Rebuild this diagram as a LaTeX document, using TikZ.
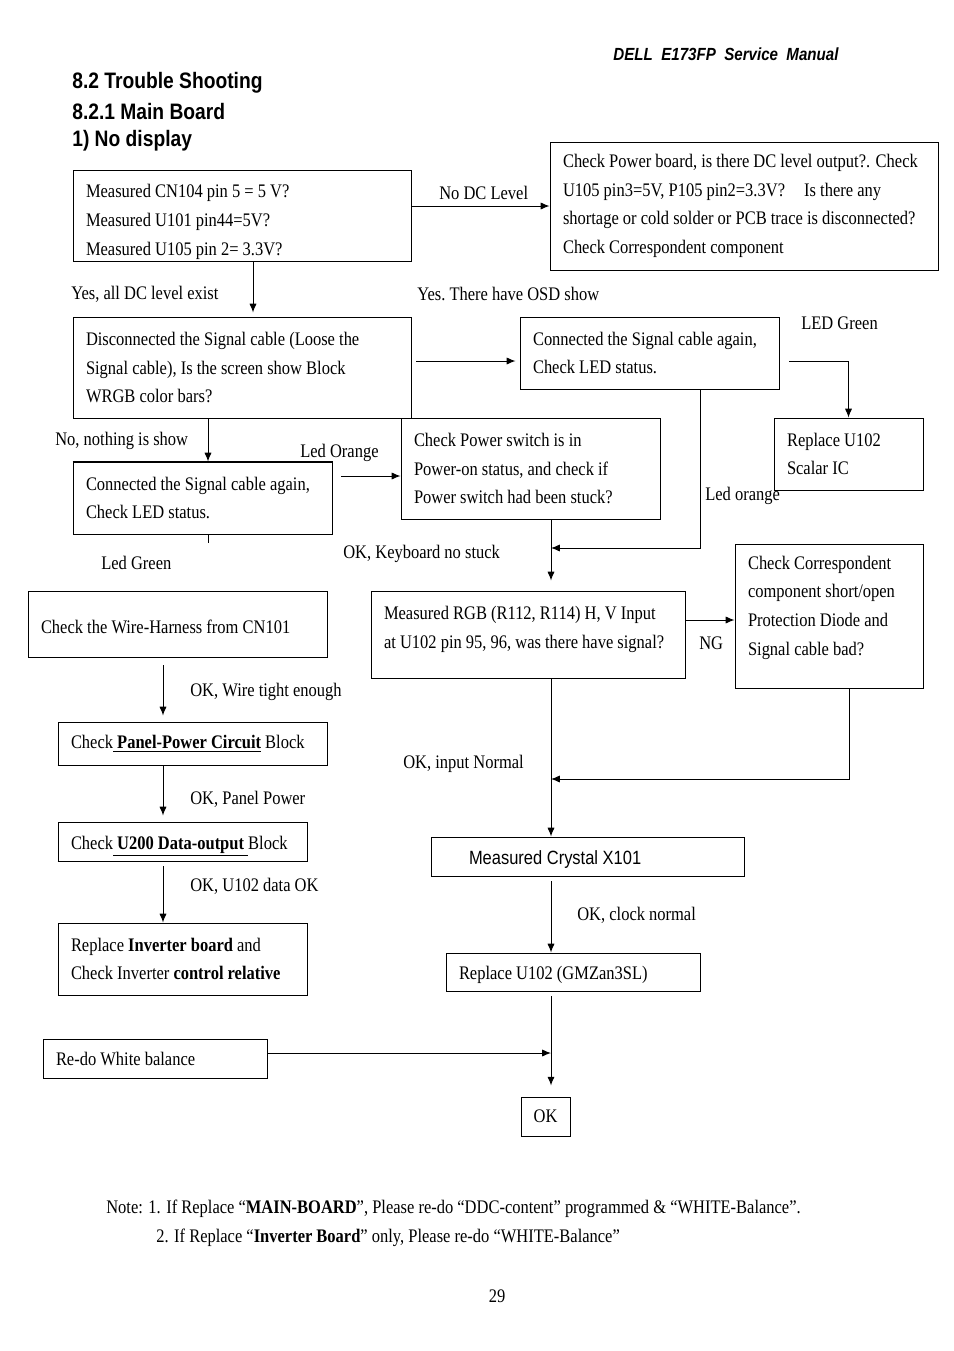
\documentclass[tikz,border=0pt]{standalone}
\usepackage{fontspec}
\setmainfont{Liberation Serif}[FakeStretch=0.86]
\newfontfamily\arialfont{Liberation Sans}[FakeStretch=0.86]
\usetikzlibrary{calc,arrows.meta}
\newcommand{\pxu}{0.022cm}

\begin{document}
\begin{tikzpicture}[x=0.022cm,y=-0.022cm,>={Latex[length=5.5pt,width=4.5pt]}]
\tikzset{every node/.style={font=\fontsize{12}{18}\selectfont},
  box/.style 2 args={draw,rectangle,line width=0.6pt,inner xsep=13*\pxu,inner ysep=0pt,align=flush left,
    minimum width=#1*\pxu,minimum height=#2*\pxu,text width=#1*\pxu-26*\pxu},
  lbl/.style={anchor=west,inner sep=0pt}}
\useasboundingbox (0,0) rectangle (954,1351);

% header
\node (h0) at (726,54) [font=\arialfont\bfseries\itshape\fontsize{11}{13}\selectfont] {DELL\ \ E173FP\ \ Service\ \ Manual};
\node (h1) at (72,83) [lbl,font=\arialfont\bfseries\fontsize{14}{16}\selectfont] {8.2 Trouble Shooting};
\node (h2) at (72,112) [lbl,font=\arialfont\bfseries\fontsize{14}{16}\selectfont] {8.2.1 Main Board};
\node (h3) at (72,141) [lbl,font=\arialfont\bfseries\fontsize{14}{16}\selectfont] {1) No display};

% boxes
\node (1) at (242,215.5) [box={338}{91}] {\rule{0pt}{16.5pt}Measured CN104 pin 5 = 5 V?\\Measured U101 pin44=5V?\\Measured U105 pin 2= 3.3V?};
\node (2) at (744,206) [box={388}{128}] {Check Power board, is there DC level output?. Check\\U105 pin3=5V, P105 pin2=3.3V?\quad Is there any\\shortage or cold solder or PCB trace is disconnected?\\Check Correspondent component};
\node (3) at (242,367.5) [box={338}{101}] {Disconnected the Signal cable (Loose the\\Signal cable), Is the screen show Block\\WRGB color bars?};
\node (4) at (649.5,353) [box={259}{72}] {Connected the Signal cable again,\\Check LED status.};
\node (5) at (848.5,454) [box={149}{72}] {Replace U102\\Scalar IC};
\node (6) at (202.5,498) [box={259}{72}] {Connected the Signal cable again,\\Check LED status.};
\node (7) at (530.5,468.5) [box={259}{101}] {Check Power switch is in\\Power-on status, and check if\\Power switch had been stuck?};
\node (8) at (177.5,624) [box={299}{66}] {\rule{0pt}{12pt}Check the Wire-Harness from CN101};
\node (9) at (192.5,743.5) [box={269}{43}] {Check\underline{\textbf{ Panel-Power Circuit}} Block};
\node (10) at (182.5,841.5) [box={249}{39}] {\rule{0pt}{14pt}Check\underline{\textbf{ U200 Data-output }}Block};
\node (11) at (182.5,959) [box={249}{72}] {Replace \textbf{Inverter board} and\\Check Inverter \textbf{control relative}};
\node (12) at (155,1058.5) [box={224}{39}] {Re-do White balance};
\node (13) at (528,634.5) [box={314}{87}] {Measured RGB (R112, R114) H, V Input\\at U102 pin 95, 96, was there have signal?\rule[-9pt]{0pt}{1pt}};
\node (14) at (829,616) [box={188}{144}] {Check Correspondent\\component short/open\\Protection Diode and\\Signal cable bad?\rule[-13pt]{0pt}{1pt}};
\node (15) at (587.5,856.5) [box={313}{39},inner xsep=38*\pxu,text width=237*\pxu,font=\arialfont\fontsize{12}{18}\selectfont] {\rule{0pt}{12pt}Measured Crystal X101};
\node (16) at (573,972) [box={254}{38}] {\rule{0pt}{12pt}Replace U102 (GMZan3SL)};
\node (17) at (545.5,1116.5) [draw,line width=0.6pt,minimum width=49*\pxu,minimum height=39*\pxu] {OK};

% heavier edges
\draw[line width=1.2pt] (6.north west) -- (6.north east) -- (6.south east) -- (6.south west);
\draw[line width=1.2pt] (9.south west) -- (9.south east);
\draw[line width=1.2pt] (10.south west) -- (10.south east);

% labels
\node (t1) at (439,193) [lbl] {No DC Level};
\node (t2) at (71,294) [lbl] {Yes, all DC level exist};
\node (t3) at (417,294) [lbl] {Yes.\ There have OSD show};
\node (t4) at (801,323) [lbl] {LED Green};
\node (t5) at (55,441) [lbl] {No, nothing is show};
\node (t6) at (300,453) [lbl] {Led Orange};
\node (t7) at (705,496) [lbl] {Led orange};
\node (t8) at (101,563) [lbl] {Led Green};
\node (t9) at (343,554) [lbl] {OK, Keyboard no stuck};
\node (t10) at (699,643) [lbl] {NG};
\node (t11) at (190,692) [lbl] {OK, Wire tight enough};
\node (t12) at (190,799) [lbl] {OK, Panel Power};
\node (t13) at (403,764) [lbl] {OK, input Normal};
\node (t14) at (190,886) [lbl] {OK, U102 data OK};
\node (t15) at (577,915) [lbl] {OK, clock normal};

% junctions
\coordinate (j1) at (551,548);
\coordinate (j2) at (551,779);
\coordinate (j3) at (551,1053);
\coordinate (s1) at (208,543);

\path[line width=0.6pt]
(2.west -| 1.east) edge [->, black] (2.west)
(1.south -| 253,0) edge [->, black, shorten >=0.088cm] (3.north -| 253,0)
(3.east |- 0,361) edge [->, black, shorten <=0.11cm, shorten >=0.088cm] (4.west |- 0,361)
(3.south -| 208,0) edge [->, black] (6.north -| 208,0)
(6.east |- 0,476) edge [->, black, shorten <=0.198cm] (7.west |- 0,476)
(6.south -| s1) edge [black] (s1)
(7.south -| 551,0) edge [->, black, shorten >=0.22cm] (13.north -| 551,0)
(13.east |- 0,620) edge [->, black] (14.west |- 0,620)
(13.south -| 551,0) edge [->, black] (15.north -| 551,0)
(15.south -| 551,0) edge [->, black, shorten <=0.11cm] (16.north -| 551,0)
(16.south -| 551,0) edge [->, black, shorten <=0.11cm, shorten >=0.242cm] (17.north -| 551,0)
(8.south -| 163,0) edge [->, black, shorten <=0.176cm, shorten >=0.132cm] (9.north -| 163,0)
(9.south -| 163,0) edge [->, black, shorten >=0.132cm] (10.north -| 163,0)
(10.south -| 163,0) edge [->, black, shorten <=0.11cm] (11.north -| 163,0)
(12.east |- j3) edge [->, black] (j3);

\draw[->, line width=0.6pt, shorten <=0.22cm] (4.east |- 0,361) -| (5.north);
\draw[->, line width=0.6pt] (4.south -| 700,0) |- (j1);
\draw[->, line width=0.6pt] (14.south -| 849,0) |- (j2);

% note
\node (n1) at (106,1209) [lbl] {Note: 1. If Replace “\textbf{MAIN-BOARD}”, Please re-do “DDC-content” programmed \& “WHITE-Balance”.};
\node (n2) at (156,1238) [lbl] {2. If Replace “\textbf{Inverter Board}” only, Please re-do “WHITE-Balance”};
\node (pg) at (497,1296) {29};
\end{tikzpicture}
\end{document}
